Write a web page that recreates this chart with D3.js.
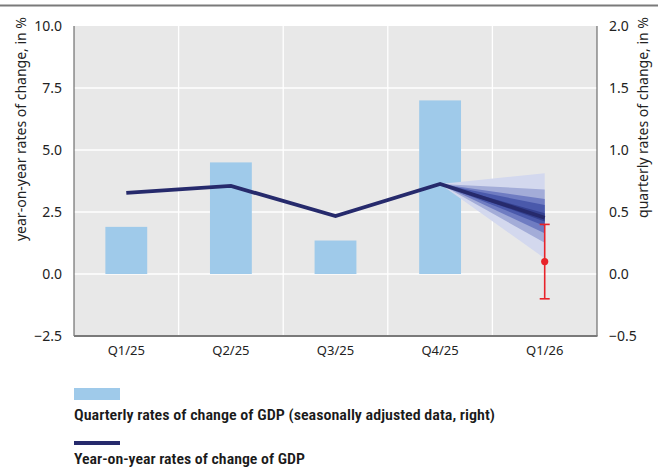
<!DOCTYPE html>
<html><head><meta charset="utf-8">
<script src="https://cdn.jsdelivr.net/npm/d3@7"></script>
<style>body{margin:0;background:#fff}svg{display:block}</style>
</head><body>
<svg id="c" width="658" height="467"></svg>
<script>
const categories = ["Q1/25","Q2/25","Q3/25","Q4/25","Q1/26"];
const quarterly = [0.38, 0.9, 0.27, 1.4];            // right axis, bars
const yoy = [3.27, 3.55, 2.34, 3.63, 2.27];           // left axis, line
const fanLow  = [0.63, 1.26, 1.64, 1.94, 2.12];       // fan band lower bounds at Q1/26 (left axis)
const fanHigh = [4.06, 3.41, 3.02, 2.78, 2.45];       // fan band upper bounds at Q1/26
const fanColors = ["#d3d8ee","#a3acd8","#6f7cc2","#4a59ab","#34408f"];
const forecastQ = {value: 0.1, low: -0.2, high: 0.4};  // right axis, red point
const leftTicks = [-2.5, 0, 2.5, 5, 7.5, 10];
const rightTicks = [-0.5, 0, 0.5, 1, 1.5, 2];
const legendItems = ["Quarterly rates of change of GDP (seasonally adjusted data, right)","Year-on-year rates of change of GDP"];

const svg = d3.select("#c");
const L = 74, R = 597, T = 26, B = 336;
const x = d3.scaleBand().domain(categories).range([L, R]);
const yL = d3.scaleLinear().domain([-2.5, 10]).range([B, T]);
const yR = d3.scaleLinear().domain([-0.5, 2]).range([B, T]);
const font = "'Noto Sans', 'Open Sans', sans-serif";

// top rule
svg.append("line").attr("x1",0).attr("x2",658).attr("y1",5.5).attr("y2",5.5).attr("stroke","#7a7a7a").attr("stroke-width",2);

// plot background
svg.append("rect").attr("x",L).attr("y",T).attr("width",R-L).attr("height",B-T).attr("fill","#e8e8e8");

// gridlines
svg.append("g").selectAll("line").data(leftTicks.filter(d=>d>-2.5 && d<10)).join("line")
  .attr("x1",L).attr("x2",R).attr("y1",d=>yL(d)).attr("y2",d=>yL(d)).attr("stroke","#fff").attr("stroke-width",1.3);
svg.append("g").selectAll("line").data(categories.slice(1)).join("line")
  .attr("x1",d=>x(d)).attr("x2",d=>x(d)).attr("y1",T).attr("y2",B).attr("stroke","#fff").attr("stroke-width",1.3);

// bars
const bw = x.bandwidth()*0.4;
svg.append("g").selectAll("rect").data(quarterly).join("rect")
  .attr("x",(d,i)=>x(categories[i])+x.bandwidth()/2-bw/2)
  .attr("width",bw)
  .attr("y",d=>yR(d)).attr("height",d=>yR(0)-yR(d))
  .attr("fill","#9fcaea");

// fan chart
const x4 = x(categories[3])+x.bandwidth()/2, x5 = x(categories[4])+x.bandwidth()/2;
const y4 = yL(yoy[3]);
fanLow.forEach((lo,i)=>{
  svg.append("path")
    .attr("d", d3.line()([[x4,y4],[x5,yL(fanHigh[i])],[x5,yL(lo)]]) + "Z")
    .attr("fill", fanColors[i]);
});

// line
svg.append("path").datum(yoy)
  .attr("d", d3.line().x((d,i)=>x(categories[i])+x.bandwidth()/2).y(d=>yL(d)))
  .attr("fill","none").attr("stroke","#262a6c").attr("stroke-width",3.8).attr("stroke-linejoin","miter");

// red forecast point with error bar
const red = "#e8232a";
svg.append("line").attr("x1",x5).attr("x2",x5).attr("y1",yR(forecastQ.low)).attr("y2",yR(forecastQ.high)).attr("stroke",red).attr("stroke-width",1.6);
[forecastQ.low, forecastQ.high].forEach(v=>{
  svg.append("line").attr("x1",x5-5).attr("x2",x5+5).attr("y1",yR(v)).attr("y2",yR(v)).attr("stroke",red).attr("stroke-width",1.6);
});
svg.append("circle").attr("cx",x5).attr("cy",yR(forecastQ.value)).attr("r",3.6).attr("fill",red);

// axes lines
svg.append("line").attr("x1",L).attr("x2",L).attr("y1",T).attr("y2",B).attr("stroke","#555").attr("stroke-width",1);
svg.append("line").attr("x1",R).attr("x2",R).attr("y1",T).attr("y2",B).attr("stroke","#555").attr("stroke-width",1);
svg.append("line").attr("x1",L).attr("x2",R+0.5).attr("y1",B).attr("y2",B).attr("stroke","#7a7a7a").attr("stroke-width",2);

// left axis labels
const axL = svg.append("g").attr("transform",`translate(${L},0)`)
  .call(d3.axisLeft(yL).tickValues(leftTicks).tickFormat(d=>d3.format(".1f")(d).replace("-","\u2212")).tickSize(0).tickPadding(12));
axL.select(".domain").remove();
axL.selectAll("text").attr("font-family",font).attr("font-size",14).attr("fill","#222");

const axR = svg.append("g").attr("transform",`translate(${R},0)`)
  .call(d3.axisRight(yR).tickValues(rightTicks).tickFormat(d=>d3.format(".1f")(d).replace("-","\u2212")).tickSize(0).tickPadding(12));
axR.select(".domain").remove();
axR.selectAll("text").attr("font-family",font).attr("font-size",14).attr("fill","#222");

const axB = svg.append("g").attr("transform",`translate(0,${B})`)
  .call(d3.axisBottom(x).tickSize(0).tickPadding(10));
axB.select(".domain").remove();
axB.selectAll("text").attr("font-family",font).attr("font-size",13).attr("fill","#222");

// axis titles
svg.append("text").attr("transform","translate(26,17) rotate(-90)").attr("text-anchor","end")
  .attr("font-family",font).attr("font-size",14).attr("fill","#222").text("year-on-year rates of change, in %");
svg.append("text").attr("transform","translate(648,17) rotate(-90)").attr("text-anchor","end")
  .attr("font-family",font).attr("font-size",14).attr("fill","#222").text("quarterly rates of change, in %");

// legend
const lfont = "'Liberation Sans Narrow','Roboto Condensed','Roboto',sans-serif";
svg.append("rect").attr("x",74).attr("y",388).attr("width",46).attr("height",12).attr("fill","#9fcaea");
svg.append("text").attr("x",74).attr("y",420).attr("font-family",lfont).attr("font-size",15).attr("font-weight",600)
  .attr("fill","#1a1a1a").attr("textLength",421).attr("lengthAdjust","spacingAndGlyphs").text(legendItems[0]);
svg.append("rect").attr("x",74).attr("y",441).attr("width",46).attr("height",4).attr("fill","#262a6c");
svg.append("text").attr("x",74).attr("y",464).attr("font-family",lfont).attr("font-size",15).attr("font-weight",600)
  .attr("fill","#1a1a1a").attr("textLength",231).attr("lengthAdjust","spacingAndGlyphs").text(legendItems[1]);
</script>
</body></html>
